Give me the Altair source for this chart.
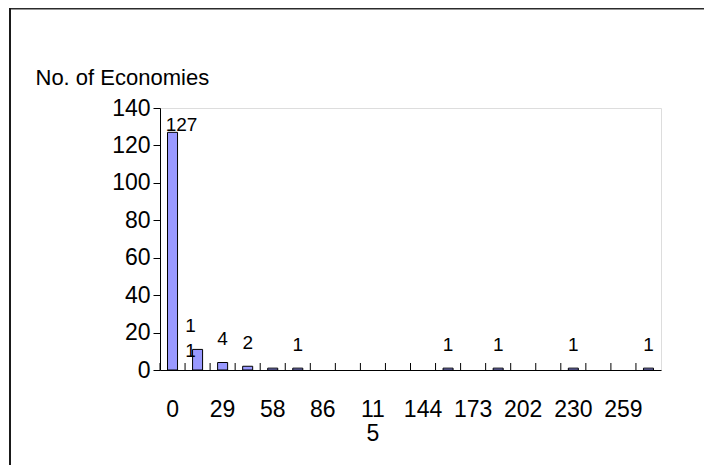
import altair as alt
import pandas as pd

# ---- data ----
bins = ["0", "14", "29", "43", "58", "72", "86", "101", "115", "130",
        "144", "158", "173", "187", "202", "216", "230", "245", "259", "274"]
counts = [127, 11, 4, 2, 1, 1, 0, 0, 0, 0,
          0, 1, 0, 1, 0, 0, 1, 0, 0, 1]
bar_labels = ["127", "1\n1", "4", "2", "", "1", "", "", "", "",
              "", "1", "", "1", "", "", "1", "", "", "1"]
x_axis_labels = ["0", "29", "58", "86", "115", "144", "173", "202", "230", "259"]
y_axis_values = [0, 20, 40, 60, 80, 100, 120, 140]
y_title = "No. of Economies"

df = pd.DataFrame({"bin": bins, "count": counts, "label": bar_labels})

W, H = 501, 262
FONT = "Liberation Sans"
AXFS = 23
LBFS = 19

x_axis = alt.Axis(
    values=x_axis_labels,
    labelExpr="datum.value == '115' ? ['11', '5'] : datum.value",
    labelAngle=0, ticks=False, tickSize=0, domainColor="black",
    domainWidth=1, labelPadding=28, labelFont=FONT, labelFontSize=AXFS,
    labelColor="black", labelLineHeight=24, labelBaseline="top",
    labelOverlap=False, title=None,
)
y_axis = alt.Axis(
    values=y_axis_values, grid=False, domainColor="black", tickColor="black",
    tickSize=7, labelPadding=3, labelFont=FONT, labelFontSize=AXFS,
    labelColor="black", labelOverlap=False, labelFlush=False,
    title=y_title, titleAngle=0, titleAlign="left",
    titleBaseline="middle", titleX=-125, titleY=-31, titleFont=FONT,
    titleFontSize=22, titleFontWeight="normal", titleColor="black",
)
x_scale = alt.Scale(paddingInner=0, paddingOuter=0)
y_scale = alt.Scale(domain=[0, 140], nice=False, zero=True)

x_enc = alt.X("bin:N", sort=bins, scale=x_scale, axis=x_axis)
y_enc = alt.Y("count:Q", scale=y_scale, axis=y_axis)

base = alt.Chart(df)

bars = base.transform_filter("datum.count > 0").mark_bar(
    width=alt.RelativeBandSize(0.4), fill="#9999FF", stroke="black", strokeWidth=1
).encode(x=x_enc, y=y_enc)

ticks = base.mark_rule(color="black", strokeWidth=1).encode(
    x=alt.X("bin:N", sort=bins, scale=x_scale, axis=x_axis, bandPosition=0),
    y=alt.value(H), y2=alt.value(H - 7),
)

text_common = dict(baseline="alphabetic", fontSize=LBFS, font=FONT, color="black",
                   lineBreak="\n", lineHeight=25)

labels_main = base.transform_filter(
    "datum.label != '' && datum.label != '127' && datum.label != '1\\n1'"
).mark_text(dy=-17.5, **text_common).encode(
    x=x_enc, y=y_enc, text="label:N"
)
labels_wrap = base.transform_filter("datum.label == '1\\n1'").mark_text(
    dy=-17.5, dx=-7, **text_common
).encode(x=x_enc, y=y_enc, text="label:N")
labels_top = base.transform_filter("datum.label == '127'").transform_calculate(
    ly="min(datum.count, 118.5)"
).mark_text(dy=-17.5, dx=9, **text_common).encode(
    x=x_enc, y=alt.Y("ly:Q", scale=y_scale, axis=y_axis), text="label:N"
)

frame_df = pd.DataFrame({"k": [0]})
frame_top = alt.Chart(frame_df).mark_rule(color="#2b2b2b", strokeWidth=2).encode(
    x=alt.value(-150), x2=alt.value(W + 80), y=alt.value(-99.5)
)
frame_left = alt.Chart(frame_df).mark_rule(color="#1a1a1a", strokeWidth=2).encode(
    x=alt.value(-150), y=alt.value(-100), y2=alt.value(H + 120)
)

chart = alt.layer(bars, ticks, labels_main, labels_wrap, labels_top, frame_top, frame_left).properties(
    width=W, height=H,
    autosize=alt.AutoSizeParams(type="none"),
    padding={"left": 152, "top": 100, "right": 43, "bottom": 95},
).configure_view(stroke="#808080", strokeWidth=1).configure_axis(
    labelOverlap=False
).configure(background="white")

chart.save("out.html", embed_options={"renderer": "svg", "actions": False})
